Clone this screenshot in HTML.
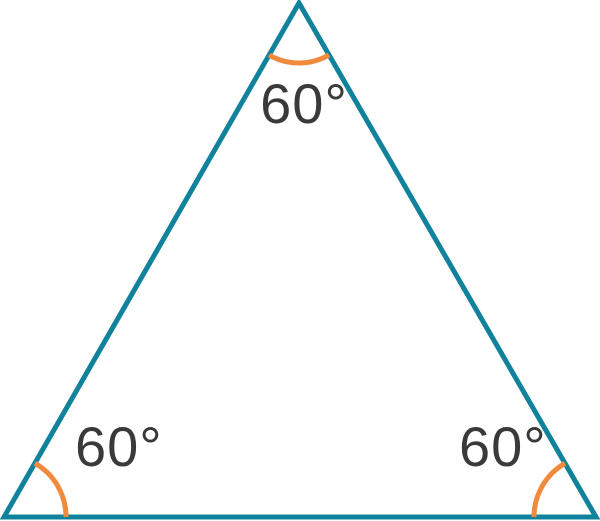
<!DOCTYPE html>
<html>
<head>
<meta charset="utf-8">
<style>
  html,body{margin:0;padding:0;background:#fff;}
  svg{display:block;}
  text{font-family:"Liberation Sans",sans-serif;font-size:56px;fill:#3a3a3a;letter-spacing:1px;}
</style>
</head>
<body>
<svg id="fig" width="600" height="521" viewBox="0 0 600 521">
  <polygon id="tri" fill="none" stroke="#11829b" stroke-width="5" stroke-linejoin="miter"/>
  <g id="arcs"></g>
  <text x="304" y="123" text-anchor="middle">60°</text>
  <text x="75" y="466">60°</text>
  <text x="459" y="466">60°</text>
</svg>
<script>
const vertexX = [299, 4, 596];
const vertexY = [3, 517, 517];
const angleRadius = [60, 62, 62];
const arcNames = ['top-angle-arc', 'bottom-left-angle-arc', 'bottom-right-angle-arc'];

const tri = document.getElementById('tri');
tri.setAttribute('points', vertexX.map((x,i)=>x+','+vertexY[i]).join(' '));
const g = document.getElementById('arcs');
for (let i = 0; i < 3; i++) {
  const a = (i+1)%3, b = (i+2)%3;
  const pts = [a,b].map(j=>{
    const dx = vertexX[j]-vertexX[i], dy = vertexY[j]-vertexY[i];
    const L = Math.hypot(dx,dy);
    return [vertexX[i]+dx/L*angleRadius[i], vertexY[i]+dy/L*angleRadius[i]];
  });
  const p = document.createElementNS('http://www.w3.org/2000/svg','path');
  const r = angleRadius[i];
  const cross = (pts[0][0]-vertexX[i])*(pts[1][1]-vertexY[i]) - (pts[0][1]-vertexY[i])*(pts[1][0]-vertexX[i]);
  const sweep = cross > 0 ? 1 : 0;
  p.setAttribute('d', `M${pts[0][0]},${pts[0][1]} A${r},${r} 0 0 ${sweep} ${pts[1][0]},${pts[1][1]}`);
  p.setAttribute('fill','none');
  p.setAttribute('stroke','#f08a3c');
  p.setAttribute('stroke-width','5');
  
  
  g.appendChild(p);
}
</script>
</body>
</html>
